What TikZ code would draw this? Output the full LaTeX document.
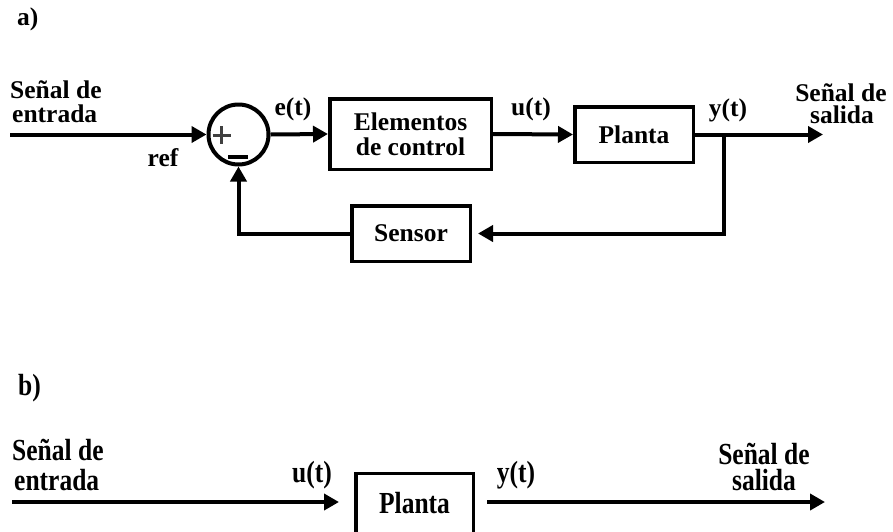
\documentclass[tikz,border=0pt]{standalone}
\usepackage{fontspec}
\setmainfont{Liberation Serif}
\usepackage{graphicx}
\usetikzlibrary{arrows.meta}
\begin{document}
\begin{tikzpicture}[x=1pt,y=-1pt,
  lbl/.style={inner sep=0pt, font=\fontsize{25.5}{24}\selectfont\bfseries},
  blk/.style={draw, line width=3.5pt, inner sep=0pt, font=\fontsize{25.5}{25}\selectfont\bfseries, align=center},
  sig/.style={line width=4pt, -{Triangle[length=15pt,width=16pt]}},
  wire/.style={line width=4pt}
]
\useasboundingbox (0,0) rectangle (893,531);
\clip (0,0) rectangle (893,531);

% ---------- a) ----------
\node[lbl, anchor=base west] (la) at (17,25) {a)};
\node[lbl, anchor=base west] (inA1) at (10,98) {Señal de};
\node[lbl, anchor=base west] (inA2) at (12,122) {entrada};
\coordinate (inA) at (10,134.5);

\node[draw, circle, line width=4pt, minimum size=60pt, inner sep=0pt] (sum) at (238.5,134.5) {};
\draw[line width=3pt, black!75] ([shift={(-26,0.5)}]sum.center) -- ([shift={(-8,0.5)}]sum.center)
  ([shift={(-17,-8.5)}]sum.center) -- ([shift={(-17,9.5)}]sum.center);
\draw[line width=4pt] ([shift={(-10.5,22.5)}]sum.center) -- ([shift={(9.5,22.5)}]sum.center);

\node[blk, minimum width=161.5pt, minimum height=70.5pt] (ctrl) at (410.5,134) {Elementos\\de control};
\node[blk, minimum width=118.5pt, minimum height=55.5pt] (plantA) at (634,134.5) {Planta};
\node[blk, minimum width=118.5pt, minimum height=55.5pt] (sensor) at (411,233.5) {Sensor};

\node[lbl, anchor=base] (ref) at (163,166) {ref};
\node[lbl, anchor=base] (e) at (293,115) {e(t)};
\node[lbl, anchor=base] (u) at (531,115) {u(t)};
\node[lbl, anchor=base] (y) at (728,116) {y(t)};
\node[lbl, anchor=base] (outA1) at (841,101) {Señal de};
\node[lbl, anchor=base] (outA2) at (842,123) {salida};
\coordinate (outA) at (823,134.5);
\coordinate (br) at (724,134.5);

\draw[sig] (inA) -- (sum.west);
\draw[sig] (sum.east) -- (ctrl.west);
\draw[sig] (ctrl.east) -- (plantA.west);
\draw[sig] (plantA.east) -- (outA);
\draw[sig, shorten >=6pt] (br) |- (sensor.east);
\draw[sig] (sensor.west) -| (sum.south);

% ---------- b) ----------
\node[lbl, anchor=base west] (lb) at (18,395) {\scalebox{1}[1.2]{b)}};
\node[lbl, anchor=base west] (inB1) at (12,460) {\scalebox{1}[1.2]{Señal de}};
\node[lbl, anchor=base west] (inB2) at (14,490) {\scalebox{1}[1.2]{entrada}};
\node[blk, minimum width=117.5pt, minimum height=60pt] (plantB) at (414.5,503.5) {\scalebox{1}[1.2]{Planta}};
\node[lbl, anchor=base] (u2) at (312,482) {\scalebox{1}[1.2]{u(t)}};
\node[lbl, anchor=base] (y2) at (516,482) {\scalebox{1}[1.2]{y(t)}};
\node[lbl, anchor=base] (outB1) at (764,464) {\scalebox{1}[1.2]{Señal de}};
\node[lbl, anchor=base] (outB2) at (764,490) {\scalebox{1}[1.2]{salida}};
\coordinate (inB) at (12,502);
\coordinate (outB) at (825,502);

\draw[sig, shorten >=15pt] (inB) -- (inB -| plantB.west);
\draw[sig, shorten <=12pt] (plantB.east |- outB) -- (outB);
\end{tikzpicture}
\end{document}
